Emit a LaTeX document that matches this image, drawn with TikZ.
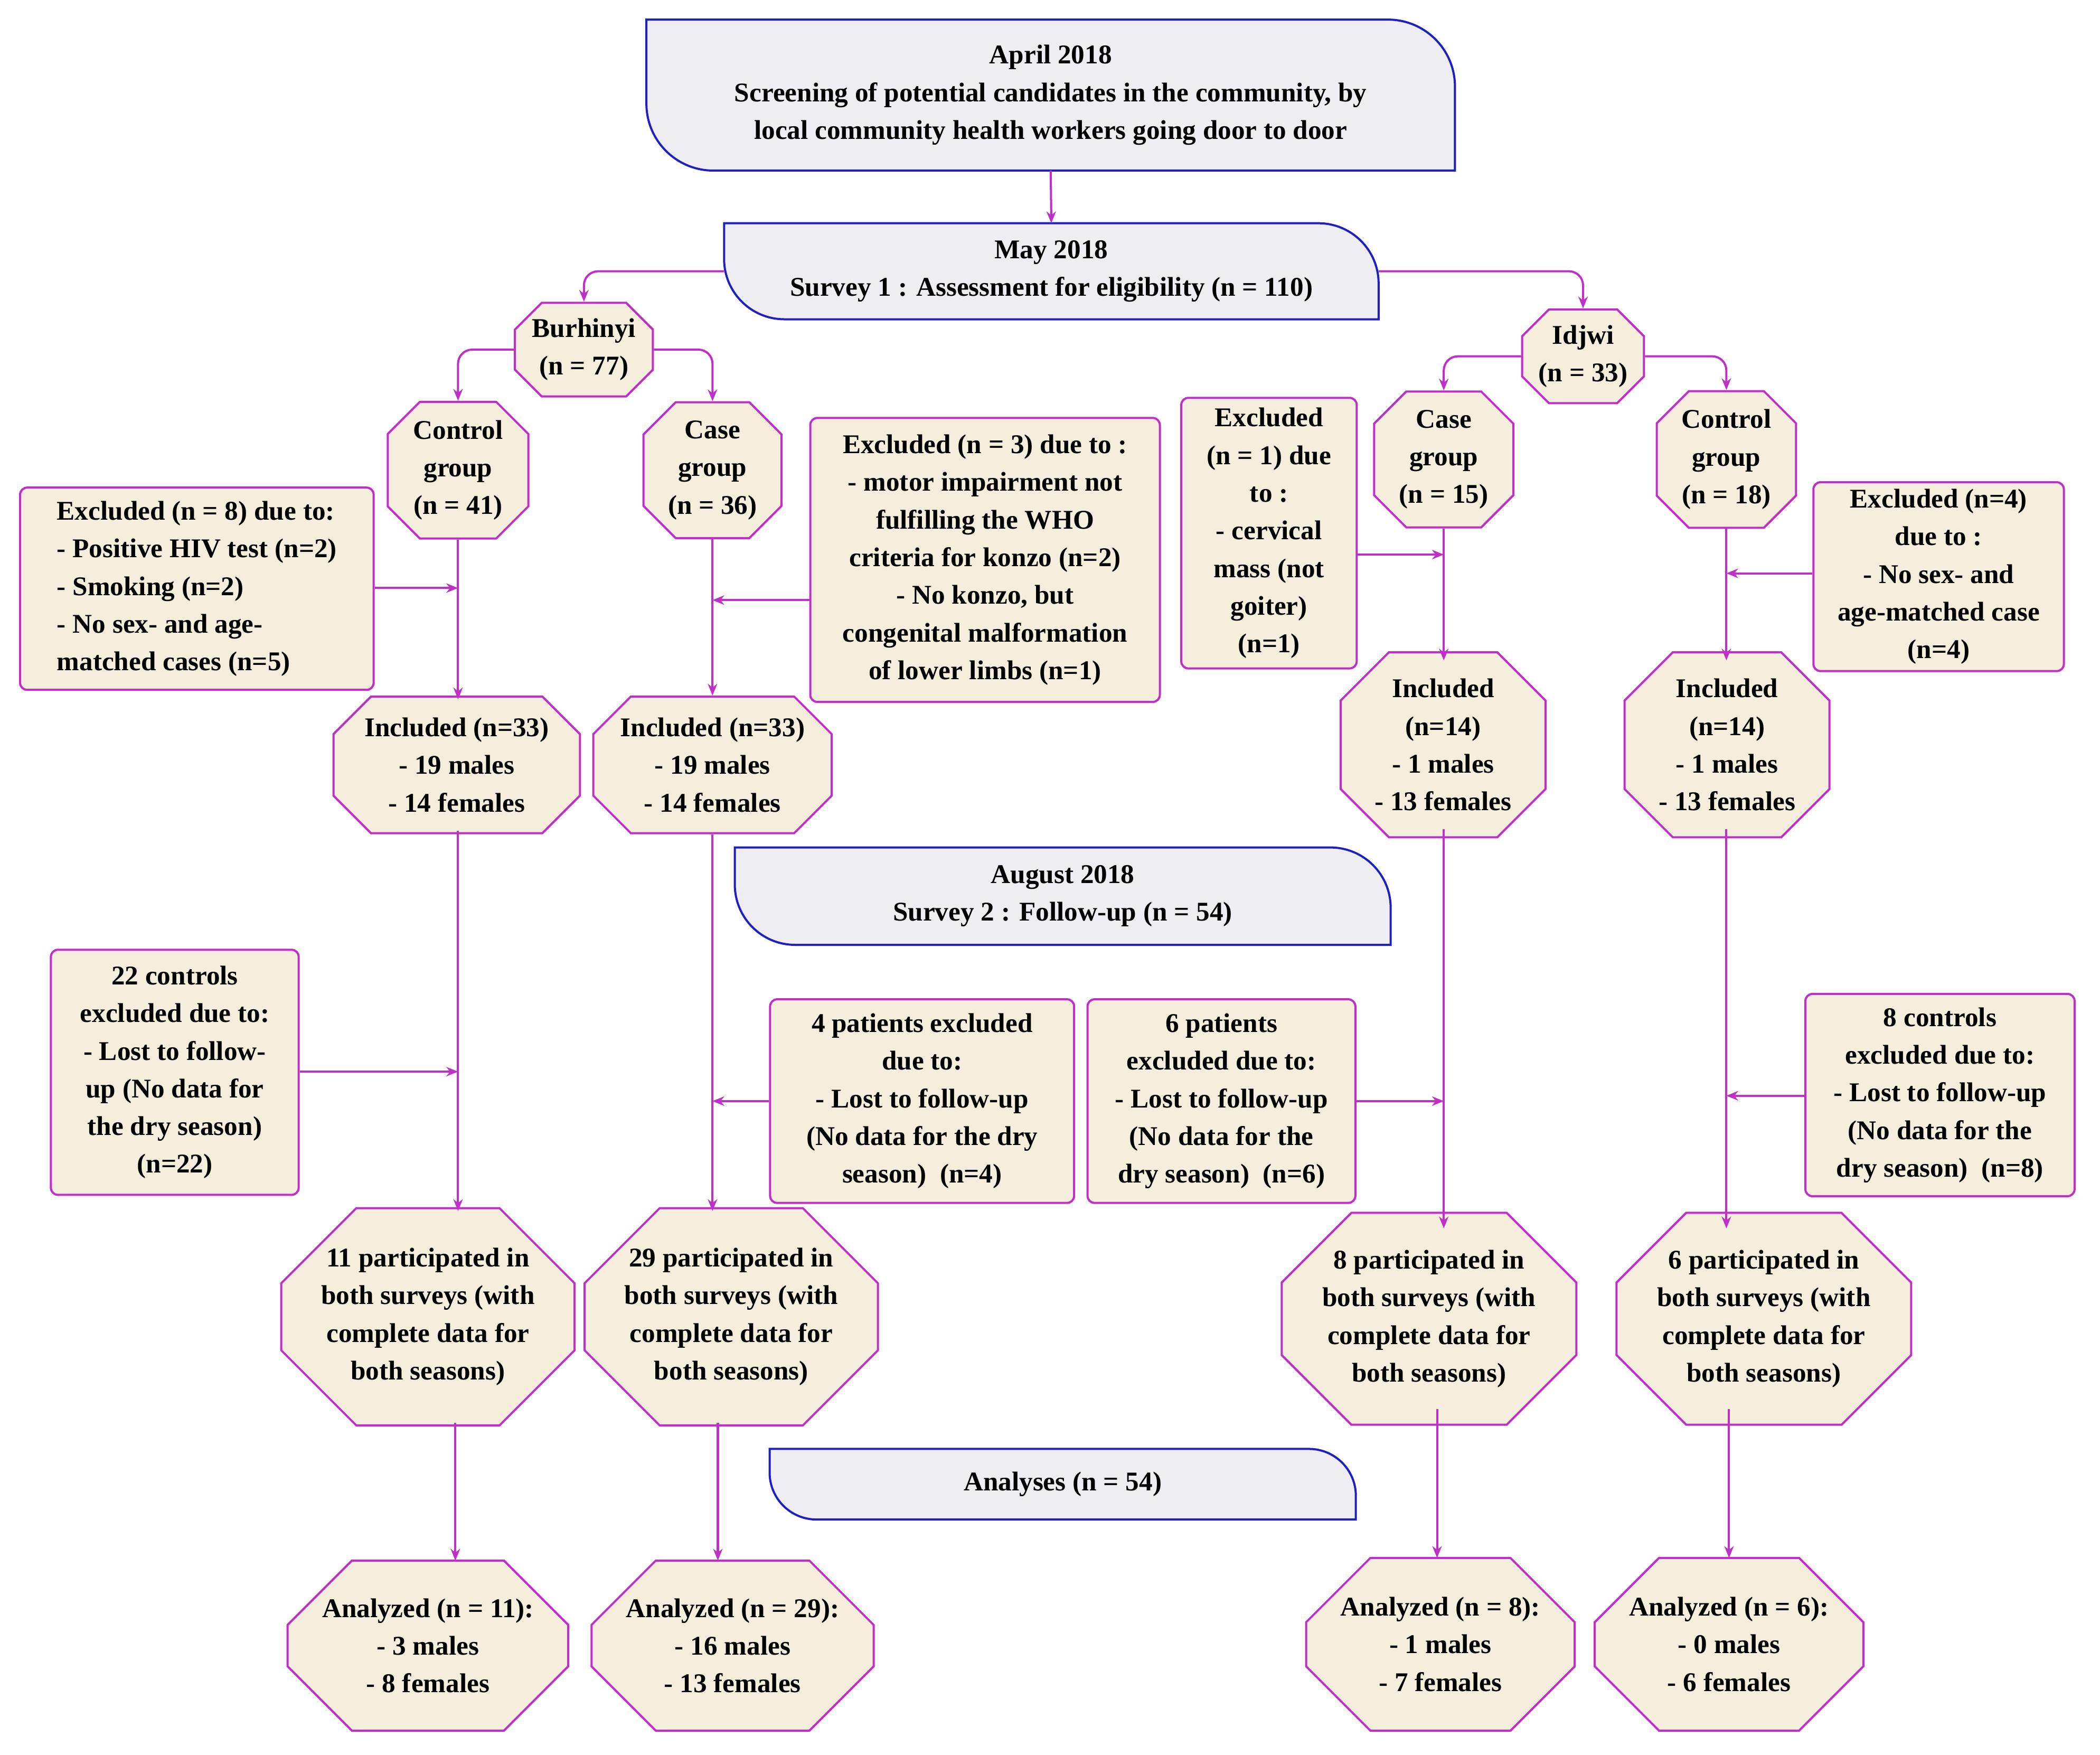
\documentclass[tikz,border=0pt]{standalone}
\usepackage{fontspec}
\setmainfont{Liberation Serif}
\usetikzlibrary{shapes.misc,arrows.meta}
\definecolor{mag}{HTML}{C030C8}
\definecolor{beige}{HTML}{F6EEDC}
\definecolor{hdr}{HTML}{EEEEF2}
\definecolor{hblue}{HTML}{2020C0}
\newcommand\nd[7]{\node[#1,minimum width=#5*0.02cm,minimum height=#6*0.02cm] (#2) at (#3,#4) {#7};}
\newcommand\hdrbox[7]{%
 \node[inner sep=0,minimum width=#5*0.02cm,minimum height=#6*0.02cm,font=\fontsize{11.5}{16}\selectfont\bfseries,align=center] (#1) at (#3,#4) {#7};
 \draw[hblue,fill=hdr,line width=0.9pt] (#1.north west) -- ([xshift=-#2]#1.north east) arc[start angle=90,end angle=0,radius=#2] -- (#1.south east) -- ([xshift=#2]#1.south west) arc[start angle=270,end angle=180,radius=#2] -- cycle;
 \node[font=\fontsize{11.5}{16}\selectfont\bfseries,align=center] at (#1) {#7};}
\begin{document}
\begin{tikzpicture}[x=0.02cm,y=-0.02cm,
 base/.style={draw=mag,fill=beige,line width=0.9pt,font=\fontsize{11.5}{16}\selectfont\bfseries,align=center,inner sep=1pt},
 oct/.style={base,chamfered rectangle,chamfered rectangle xsep=#1*0.02cm,chamfered rectangle ysep=#1*0.02cm},
 oct/.default=18,
 rbox/.style={base,rectangle,rounded corners=3pt},
 ar/.style={draw=mag,line width=0.9pt,-{Stealth[length=5pt,width=4pt]}},
 arc/.style={ar,rounded corners=6pt}]
\useasboundingbox (0,0) rectangle (1568,1310);
\hdrbox{apr}{1cm}{784.5}{71}{603}{112}{April 2018\\Screening of potential candidates in the community, by\\local community health workers going door to door}
\hdrbox{may}{0.9cm}{785}{202.5}{488}{71}{May 2018\\Survey 1 : Assessment for eligibility (n = 110)}
\hdrbox{aug}{0.9cm}{793.5}{669}{489}{72}{August 2018\\Survey 2 : Follow-up (n = 54)}
\hdrbox{ana}{0.7cm}{793.5}{1108}{437}{52}{Analyses (n = 54)}

\nd{oct=10}{bur}{436}{261}{103}{67}{Burhinyi\\(n = 77)}
\nd{oct=10}{idj}{1182}{266}{91}{67}{Idjwi\\(n = 33)}
\nd{oct=12}{conL}{342}{351}{105}{98}{Control\\group\\(n = 41)}
\nd{oct=12}{casL}{532}{351}{103}{98}{Case\\group\\(n = 36)}
\nd{oct=12}{casR}{1078}{343}{104}{100}{Case\\group\\(n = 15)}
\nd{oct=12}{conR}{1289}{343}{104}{100}{Control\\group\\(n = 18)}
\nd{rbox,align=left}{ex8}{147}{439.5}{264}{151}{Excluded (n = 8) due to:\\- Positive HIV test (n=2)\\- Smoking (n=2)\\- No sex- and age-\\matched cases (n=5)}
\nd{rbox}{ex3}{735.5}{418}{261}{212}{Excluded (n = 3) due to :\\- motor impairment not\\fulfilling the WHO\\criteria for konzo (n=2)\\- No konzo, but\\congenital malformation\\of lower limbs (n=1)}
\nd{rbox}{ex1}{947.5}{398}{131}{202}{Excluded\\(n = 1) due\\to :\\- cervical\\mass (not\\goiter)\\(n=1)}
\nd{rbox}{ex4}{1447.5}{430.5}{187}{141}{Excluded (n=4)\\due to :\\- No sex- and\\age-matched case\\(n=4)}
\nd{oct=14}{incL1}{341}{571}{184}{98}{Included (n=33)\\- 19 males\\- 14 females}
\nd{oct=14}{incL2}{532}{571}{178}{98}{Included (n=33)\\- 19 males\\- 14 females}
\nd{oct=18}{incR1}{1077.5}{556}{153}{126}{Included\\(n=14)\\- 1 males\\- 13 females}
\nd{oct=18}{incR2}{1289.5}{556}{153}{126}{Included\\(n=14)\\- 1 males\\- 13 females}
\nd{rbox}{c22}{130.5}{800.5}{185}{183}{22 controls\\excluded due to:\\- Lost to follow-\\up (No data for\\the dry season)\\(n=22)}
\nd{rbox}{p4}{688.5}{822}{227}{152}{4 patients excluded\\due to:\\- Lost to follow-up\\(No data for the dry\\season)\ \ (n=4)}
\nd{rbox}{p6}{912}{822}{200}{152}{6 patients\\excluded due to:\\- Lost to follow-up\\(No data for the\\dry season)\ \ (n=6)}
\nd{rbox}{c8}{1448.5}{817.5}{201}{151}{8 controls\\excluded due to:\\- Lost to follow-up\\(No data for the\\dry season)\ \ (n=8)}
\nd{oct=28}{parL1}{319.5}{983}{207}{158}{11 participated in\\both surveys (with\\complete data for\\both seasons)}
\nd{oct=28}{parL2}{546}{983}{206}{158}{29 participated in\\both surveys (with\\complete data for\\both seasons)}
\nd{oct=26}{parR1}{1067}{984.5}{220}{135}{8 participated in\\both surveys (with\\complete data for\\both seasons)}
\nd{oct=26}{parR2}{1317}{984.5}{220}{135}{6 participated in\\both surveys (with\\complete data for\\both seasons)}
\nd{oct=24}{anL1}{319.5}{1228.5}{207}{127}{Analyzed (n = 11):\\- 3 males\\- 8 females}
\nd{oct=24}{anL2}{547}{1228.5}{206}{127}{Analyzed (n = 29):\\- 16 males\\- 13 females}
\nd{oct=24}{anR1}{1075.5}{1227.5}{185}{129}{Analyzed (n = 8):\\- 1 males\\- 7 females}
\nd{oct=24}{anR2}{1291}{1227.5}{185}{129}{Analyzed (n = 6):\\- 0 males\\- 6 females}

\draw[ar] (apr.south) -- (may.north);
\draw[arc] (may.west) -| (bur.north);
\draw[arc] (may.east) -| (idj.north);
\draw[arc] (bur.west) -| (conL.north);
\draw[arc] (bur.east) -| (casL.north);
\draw[arc] (idj.west) -| (casR.north);
\draw[arc] (idj.east) -| (conR.north);
\coordinate (j1) at (342,439); \coordinate (j2) at (532,448);
\coordinate (j3) at (1078,414); \coordinate (j4) at (1289,428);
\draw[ar] (conL.south) -- (342,522);
\draw[ar] (casL.south) -- (incL2.north);
\draw[ar] (casR.south) -- (1078,493);
\draw[ar] (conR.south) -- (1289,493);
\draw[ar] (ex8.east|-j1) -- (j1);
\draw[ar] (ex3.west|-j2) -- (j2);
\draw[ar] (ex1.east|-j3) -- (j3);
\draw[ar] (ex4.west|-j4) -- (j4);
\coordinate (k1) at (342,800); \coordinate (k2) at (532,822);
\coordinate (k3) at (1078,822); \coordinate (k4) at (1289,818);
\draw[ar] (342,620) -- (342,904);
\draw[ar] (incL2.south) -- (532,904);
\draw[ar] (1078,619) -- (1078,917);
\draw[ar] (1289,619) -- (1289,917);
\draw[ar] (c22.east|-k1) -- (k1);
\draw[ar] (p4.west|-k2) -- (k2);
\draw[ar] (p6.east|-k3) -- (k3);
\draw[ar] (c8.west|-k4) -- (k4);
\draw[ar] (340,1062) -- (340,1165);
\draw[ar] (536,1062) -- (536,1165);
\draw[ar] (1073,1052) -- (1073,1163);
\draw[ar] (1291,1052) -- (1291,1163);
\end{tikzpicture}
\end{document}
